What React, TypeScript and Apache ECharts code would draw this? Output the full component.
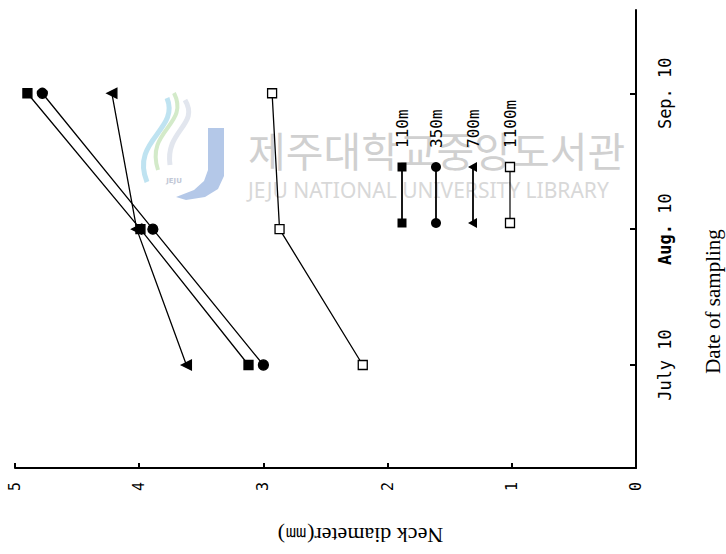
import React, { useEffect, useRef } from "react";
import * as echarts from "echarts";

// ---- data ----
const dates = ["July 10", "Aug. 10", "Sep. 10"];
const dayOffsets = [0, 31, 62];
const altitudes = ["110m", "350m", "700m", "1100m"];
const neck110 = [3.12, 3.99, 4.9];
const neck350 = [3.0, 3.89, 4.78];
const neck700 = [3.62, 4.02, 4.22];
const neck1100 = [2.2, 2.87, 2.93];

const MONO = "'DejaVu Sans Mono', 'Liberation Mono', monospace";
const SERIF = "'Liberation Serif', 'DejaVu Serif', serif";

type Mark = { symbol: string; rotate: number; fill: string; size: number };
const marks: Mark[] = [
  { symbol: "rect", rotate: 0, fill: "#000", size: 9 },
  { symbol: "circle", rotate: 0, fill: "#000", size: 10 },
  { symbol: "triangle", rotate: 90, fill: "#000", size: 10 },
  { symbol: "rect", rotate: 0, fill: "#fff", size: 9 },
];

export default function App() {
  const ref = useRef<HTMLDivElement>(null);
  useEffect(() => {
    if (!ref.current) return;
    const chart = echarts.init(ref.current, undefined, { renderer: "svg" });
    const seriesVals = [neck110, neck350, neck700, neck1100];

    const series = seriesVals.map((vals, si) => ({
      type: "line",
      name: altitudes[si],
      data: dayOffsets.map((d, i) => [vals[i], d]),
      symbol: marks[si].symbol,
      symbolSize: marks[si].size,
      symbolRotate: marks[si].rotate,
      showSymbol: true,
      z: 5,
      lineStyle: { color: "#000", width: 1.3 },
      itemStyle: { color: marks[si].fill, borderColor: "#000", borderWidth: 1.3 },
      emphasis: { disabled: true },
    }));

    // legend (drawn with graphic elements)
    const legX = [402, 436, 473, 510];
    const legTop = 167;
    const legBot = 223;
    const markerEl = (si: number, cx: number, cy: number) => {
      if (si === 0)
        return { type: "rect", shape: { x: cx - 4.5, y: cy - 4.5, width: 9, height: 9 }, style: { fill: "#000" } };
      if (si === 1) return { type: "circle", shape: { cx, cy, r: 5 }, style: { fill: "#000" } };
      if (si === 2)
        return {
          type: "polygon",
          shape: { points: [[cx - 5, cy], [cx + 4, cy - 5], [cx + 4, cy + 5]] },
          style: { fill: "#000" },
        };
      return {
        type: "rect",
        shape: { x: cx - 4.5, y: cy - 4.5, width: 9, height: 9 },
        style: { fill: "#fff", stroke: "#000", lineWidth: 1.3 },
      };
    };
    const legendEls: any[] = [];
    altitudes.forEach((name, si) => {
      const cx = legX[si];
      legendEls.push({
        type: "line",
        shape: { x1: cx, y1: legTop, x2: cx, y2: legBot },
        style: { stroke: "#000", lineWidth: si === 3 ? 1.2 : 1.8 },
        z: 20,
      });
      legendEls.push({ ...markerEl(si, cx, legTop), z: 21 });
      legendEls.push({ ...markerEl(si, cx, legBot), z: 21 });
      legendEls.push({
        type: "text",
        x: cx,
        y: legTop - 19,
        rotation: Math.PI / 2,
        style: { text: name, font: `16px ${MONO}`, fill: "#000", align: "left", verticalAlign: "middle" },
        z: 21,
      });
    });

    // watermark
    const watermark: any[] = [
      {
        type: "bezierCurve",
        shape: { x1: 147, y1: 182, x2: 167, y2: 98, cpx1: 130, cpy1: 140, cpx2: 180, cpy2: 130 },
        style: { stroke: "#bfe3f1", lineWidth: 5, fill: null },
        z: 0,
      },
      {
        type: "bezierCurve",
        shape: { x1: 158, y1: 170, x2: 174, y2: 93, cpx1: 145, cpy1: 130, cpx2: 190, cpy2: 125 },
        style: { stroke: "#d3eac9", lineWidth: 4, fill: null },
        z: 0,
      },
      {
        type: "bezierCurve",
        shape: { x1: 170, y1: 165, x2: 185, y2: 100, cpx1: 165, cpy1: 130, cpx2: 200, cpy2: 125 },
        style: { stroke: "#e2e6ee", lineWidth: 5, fill: null },
        z: 0,
      },
      {
        type: "polygon",
        shape: {
          points: [
            [208, 128], [224, 128], [224, 176], [218, 189], [205, 197], [186, 200],
            [176, 197], [194, 190], [204, 181], [208, 170],
          ],
        },
        style: { fill: "#b4c8e8" },
        z: 0,
      },
      {
        type: "text",
        x: 174,
        y: 181,
        style: { text: "JEJU", font: `bold 7px 'DejaVu Sans'`, fill: "#c2c8d6", align: "center", verticalAlign: "middle" },
        z: 0,
      },
      {
        type: "text",
        x: 248,
        y: 149,
        style: {
          text: "제주대학교중앙도서관",
          font: `41px 'Noto Sans CJK KR'`,
          fill: "#d0d0d0",
          align: "left",
          verticalAlign: "middle",
        },
        z: 0,
      },
      {
        type: "text",
        x: 248,
        y: 190,
        style: {
          text: "JEJU NATIONAL UNIVERSITY LIBRARY",
          font: `21px 'Noto Sans'`,
          fill: "#d8d8d8",
          align: "left",
          verticalAlign: "middle",
        },
        z: 0,
      },
    ];

    chart.setOption({
      animation: false,
      backgroundColor: "#fff",
      grid: { left: 15, right: 90, top: 10, bottom: 86, containLabel: false, outerBoundsMode: "none" },
      xAxis: {
        type: "value",
        min: 0,
        max: 5,
        interval: 1,
        inverse: true,
        position: "bottom",
        name: "Neck diameter(㎜)",
        nameLocation: "middle",
        nameRotate: 180,
        nameGap: 56,
        nameTextStyle: { fontFamily: SERIF, fontSize: 22, color: "#000", padding: [0, 70, 0, 0] },
        axisLine: { show: true, onZero: false, lineStyle: { color: "#000", width: 2 } },
        axisTick: { show: true, inside: true, length: 5, lineStyle: { color: "#000", width: 2 } },
        axisLabel: { rotate: 90, margin: 14, fontFamily: MONO, fontSize: 15, color: "#000" },
        splitLine: { show: false },
      },
      yAxis: {
        type: "value",
        min: -23.5,
        max: 81,
        position: "right",
        name: "Date of sampling",
        nameLocation: "middle",
        nameRotate: 90,
        nameGap: 66,
        nameTextStyle: { fontFamily: SERIF, fontSize: 21, color: "#000", padding: [0, 125, 0, 0] },
        axisLine: { show: true, onZero: false, lineStyle: { color: "#000", width: 2 } },
        axisTick: { show: true, inside: true, length: 6, customValues: dayOffsets, lineStyle: { color: "#000", width: 2 } },
        axisLabel: {
          show: true,
          customValues: dayOffsets,
          rotate: 90,
          margin: 20,
          fontFamily: MONO,
          fontSize: 17,
          color: "#000",
          formatter: (v: number) => {
            const i = dayOffsets.indexOf(Number(v));
            if (i < 0) return "";
            if (i === 1) {
              const sp = dates[i].indexOf(" ");
              return `{b|${dates[i].slice(0, sp)}} ${dates[i].slice(sp + 1)}`;
            }
            return dates[i];
          },
          rich: { b: { fontFamily: MONO, fontSize: 17, fontWeight: "bold", color: "#000" } },
        },
        splitLine: { show: false },
      },
      series,
      graphic: [...watermark, ...legendEls],
    });
    return () => chart.dispose();
  }, []);
  return <div ref={ref} style={{ position: "fixed", left: 0, top: 0, width: 726, height: 554, background: "#fff" }} />;
}
